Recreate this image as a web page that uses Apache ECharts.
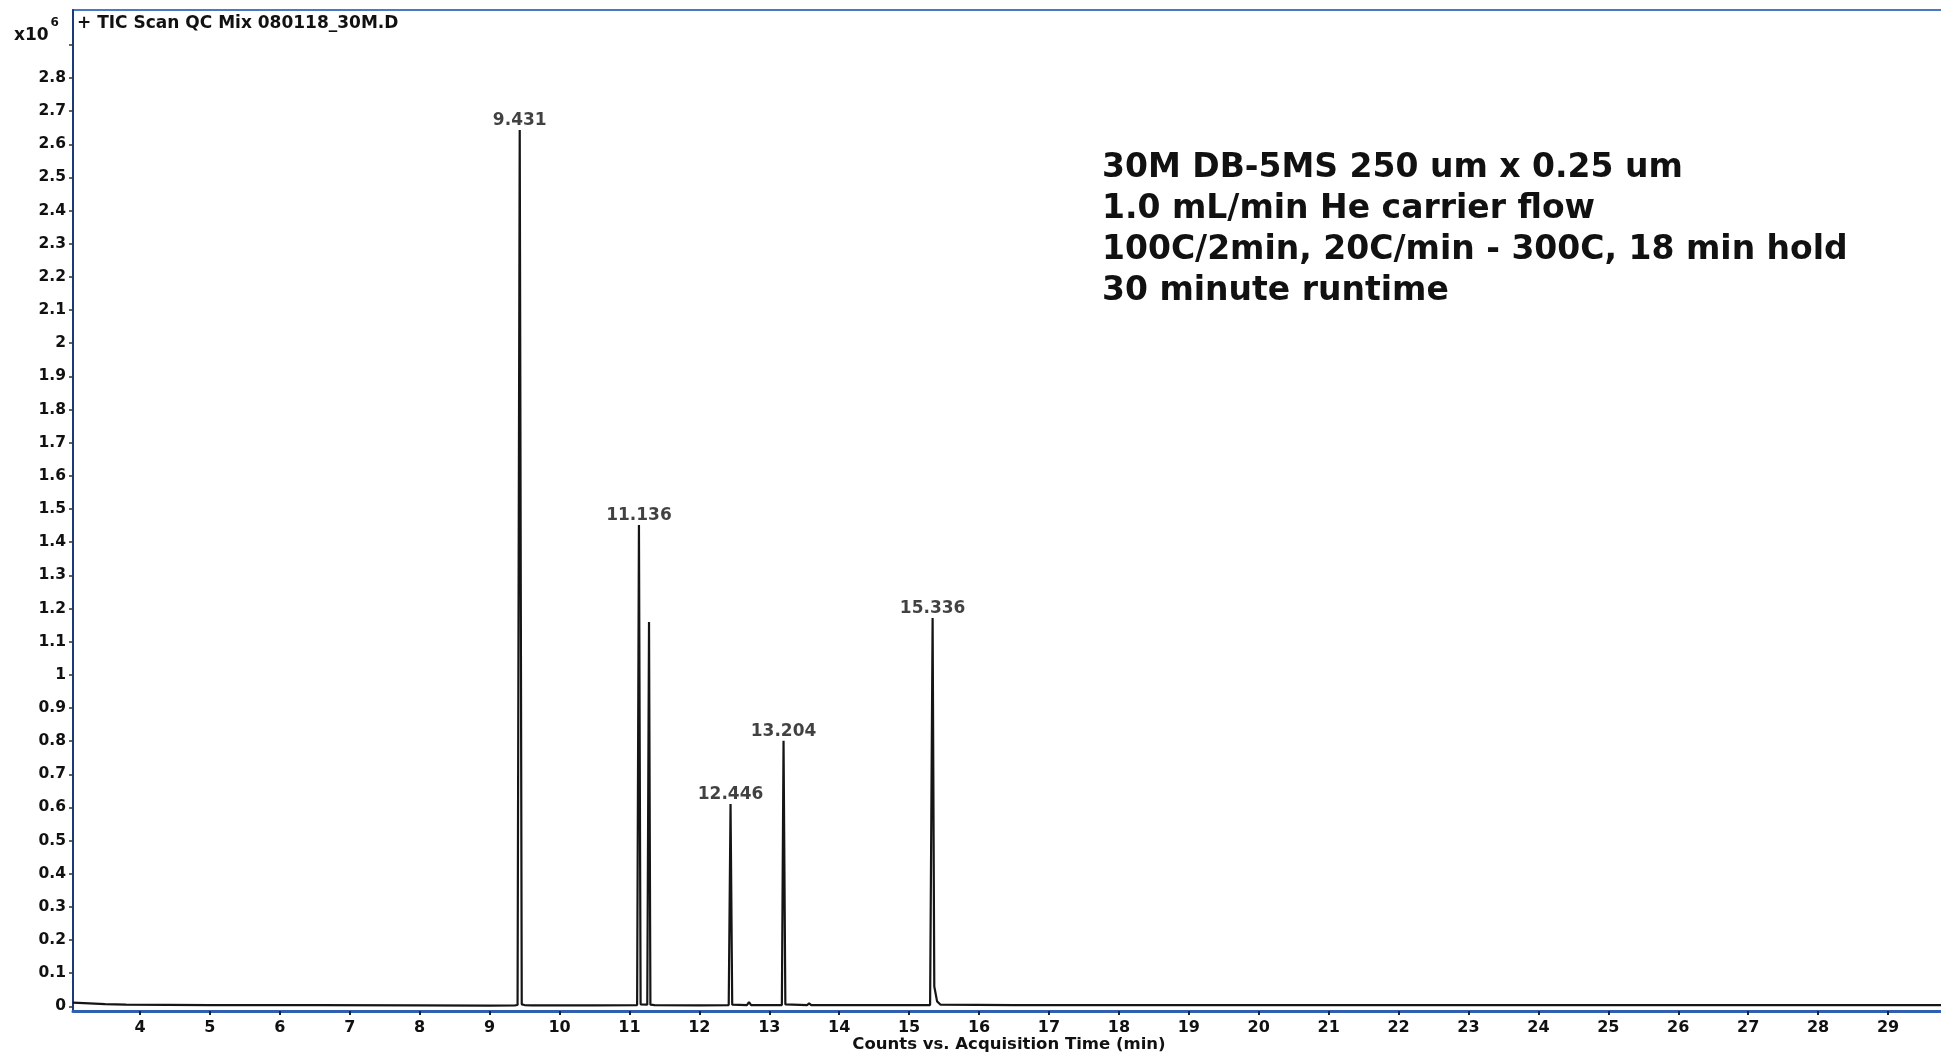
<!DOCTYPE html>
<html><head><meta charset="utf-8">
<script src="https://cdn.jsdelivr.net/npm/echarts@6/dist/echarts.min.js"></script>
<style>html,body{margin:0;padding:0;background:#fff}#c{width:1941px;height:1053px}</style>
</head><body><div id="c"></div>
<script>
// Chromatogram trace (time in min, counts x10^6)
const times = [3.04, 3.2, 3.5, 3.8, 5.0, 6.5, 8.0, 9.0, 9.36, 9.40, 9.431, 9.46, 9.50, 9.6, 10.5,
  11.11, 11.136, 11.16, 11.255, 11.28, 11.30, 11.36, 12.0, 12.42, 12.446, 12.47,
  12.68, 12.71, 12.74, 13.18, 13.204, 13.23, 13.54, 13.57, 13.60,
  15.30, 15.336, 15.36, 15.40, 15.45, 16.5, 20.0, 25.0, 29.82];
const counts = [0.011, 0.010, 0.007, 0.005, 0.004, 0.004, 0.003, 0.002, 0.003, 0.004, 2.643, 0.006, 0.004, 0.003, 0.003,
  0.004, 1.452, 0.006, 0.005, 1.159, 0.005, 0.004, 0.003, 0.004, 0.610, 0.005,
  0.004, 0.013, 0.004, 0.004, 0.801, 0.006, 0.004, 0.009, 0.004,
  0.004, 1.171, 0.060, 0.015, 0.005, 0.004, 0.004, 0.004, 0.004];

const peakTimes = [9.431, 11.136, 12.446, 13.204, 15.336];
const peakHeights = [2.643, 1.452, 0.610, 0.801, 1.171];
const peakLabels = ['9.431', '11.136', '12.446', '13.204', '15.336'];

const xTicks = [4,5,6,7,8,9,10,11,12,13,14,15,16,17,18,19,20,21,22,23,24,25,26,27,28,29];
const yTicks = [0,0.1,0.2,0.3,0.4,0.5,0.6,0.7,0.8,0.9,1,1.1,1.2,1.3,1.4,1.5,1.6,1.7,1.8,1.9,2,2.1,2.2,2.3,2.4,2.5,2.6,2.7,2.8,2.9];
const yLabels = [0,0.1,0.2,0.3,0.4,0.5,0.6,0.7,0.8,0.9,1,1.1,1.2,1.3,1.4,1.5,1.6,1.7,1.8,1.9,2,2.1,2.2,2.3,2.4,2.5,2.6,2.7,2.8];

const titleText = '+ TIC Scan QC Mix 080118_30M.D';
const xAxisName = 'Counts vs. Acquisition Time (min)';
const annotationLines = [
  '30M DB-5MS 250 um x 0.25 um',
  '1.0 mL/min He carrier flow',
  '100C/2min, 20C/min - 300C, 18 min hold',
  '30 minute runtime'
];

const FONT = '"DejaVu Sans", "Liberation Sans", sans-serif';
const chart = echarts.init(document.getElementById('c'), null, {renderer: 'canvas'});
chart.setOption({
  animation: false,
  backgroundColor: '#ffffff',
  grid: {left: 73, top: 10, right: -4, bottom: 42, containLabel: false, outerBoundsMode: 'none',
    show: true, borderColor: '#4a78c2', borderWidth: 2, backgroundColor: '#ffffff'},
  xAxis: {
    type: 'value', min: 3.042, max: 29.815,
    splitLine: {show: false},
    axisLine: {show: true, onZero: false, lineStyle: {color: '#2f5fb0', width: 3}},
    axisTick: {show: true, customValues: xTicks, length: 4, lineStyle: {color: '#222', width: 2}},
    axisLabel: {customValues: xTicks, margin: 9, fontFamily: FONT, fontWeight: 'bold', fontSize: 16, color: '#111'},
    name: xAxisName, nameLocation: 'middle', nameGap: 25, nameMoveOverlap: false,
    nameTextStyle: {fontFamily: FONT, fontWeight: 'bold', fontSize: 16.5, color: '#111'}
  },
  yAxis: {
    type: 'value', min: -0.014, max: 3.005,
    splitLine: {show: false},
    axisLine: {show: true, onZero: false, lineStyle: {color: '#1c3a78', width: 2}},
    axisTick: {show: true, customValues: yTicks, length: 4, lineStyle: {color: '#333', width: 1.5}},
    axisLabel: {customValues: yLabels, margin: 7, fontFamily: FONT, fontWeight: 'bold', fontSize: 15.5, color: '#111',
      formatter: v => String(+(+v).toFixed(1))}
  },
  series: [
    {
      type: 'line', showSymbol: false, symbol: 'none',
      data: times.map((t, i) => [t, counts[i]]),
      lineStyle: {color: '#151515', width: 2.2},
      z: 3
    },
    {
      type: 'scatter', symbolSize: 0,
      data: peakTimes.map((t, i) => [t, peakHeights[i]]),
      label: {show: true, position: 'top', distance: 1,
        formatter: p => peakLabels[p.dataIndex],
        fontFamily: FONT, fontWeight: 'bold', fontSize: 17, color: '#111'},
      z: 4
    }
  ],
  graphic: [
    {type: 'text', left: 77, top: 15, style: {text: titleText, font: 'bold 17px ' + FONT, fill: '#111'}},
    {type: 'text', left: 14, top: 17, style: {
      text: '{b|x10}{s|6}',
      rich: {b: {font: 'bold 17px ' + FONT, fill: '#111', padding: [10, 0, 0, 0]},
             s: {font: 'bold 12px ' + FONT, fill: '#111', verticalAlign: 'top', padding: [0, 0, 8, 2]}}
    }},
    {type: 'text', left: 1102, top: 148, style: {
      text: annotationLines.join('\n'), font: 'bold 33px ' + FONT, fill: '#111', lineHeight: 41
    }}
  ]
});
</script>
</body></html>
